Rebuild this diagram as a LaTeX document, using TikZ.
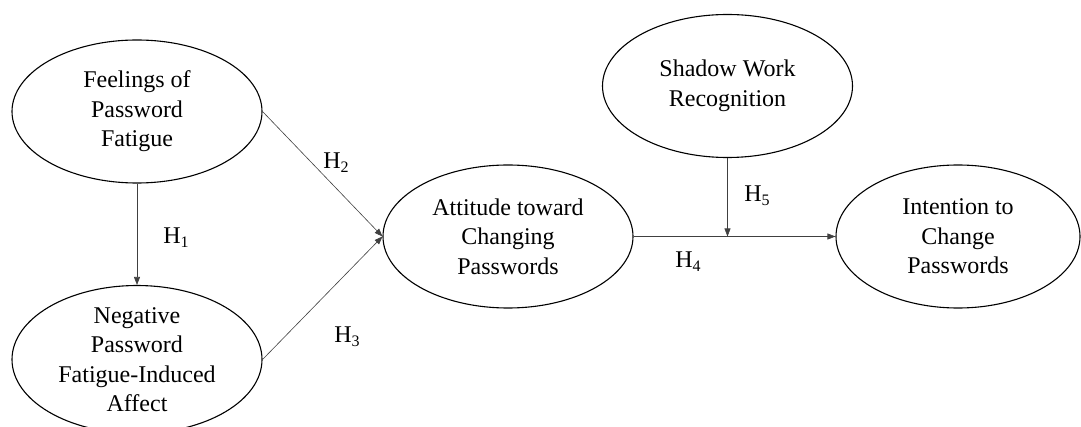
\documentclass[tikz,border=0pt]{standalone}
\usepackage{fontspec}
\setmainfont{Liberation Serif}
\usetikzlibrary{arrows.meta,shapes.geometric}
\tikzset{
  construct/.style={draw=black, line width=1.1pt, ellipse, minimum width=250pt, minimum height=143pt, inner sep=0pt, align=center, font=\fontsize{24}{29.5}\selectfont},
  conn/.style={draw=black!75, line width=0.6pt},
  arr/.style={conn, -{Triangle[length=8pt,width=6pt]}},
  hlab/.style={font=\fontsize{24}{28}\selectfont, inner sep=0pt}
}
\newcommand{\hyp}[1]{H\raisebox{-0.35ex}{\fontsize{16}{16}\selectfont #1}}
\begin{document}
\begin{tikzpicture}[x=1pt,y=-1pt]
\useasboundingbox (0,0) rectangle (1081,427);
\node[construct] (e1) at (137,111.5) {Feelings of\\Password\\Fatigue};
\node[construct] (e2) at (137,359.5) {Negative\\Password\\Fatigue-Induced\\Affect};
\node[construct] (e3) at (508,236.5) {Attitude toward\\Changing\\Passwords};
\node[construct] (e4) at (727.5,86) {Shadow Work\\Recognition};
\node[construct, minimum width=244pt] (e5) at (958,236.5) {Intention to\\Change\\Passwords};
\coordinate (m) at (e4.south |- e3.east);
\draw[arr] (e1.south) -- (e2.north);
\draw[arr] (e1.east) -- (e3.west);
\draw[arr] (e2.east) -- (e3.west);
\draw[arr] (e3.east) -- (e5.west);
\draw[arr] (e4.south) -- (m);
\node[hlab] (h1) at (176,238) {\hyp{1}};
\node[hlab] (h2) at (336,163) {\hyp{2}};
\node[hlab] (h3) at (347,337) {\hyp{3}};
\node[hlab] (h4) at (688,262) {\hyp{4}};
\node[hlab] (h5) at (757,196) {\hyp{5}};
\end{tikzpicture}
\end{document}
